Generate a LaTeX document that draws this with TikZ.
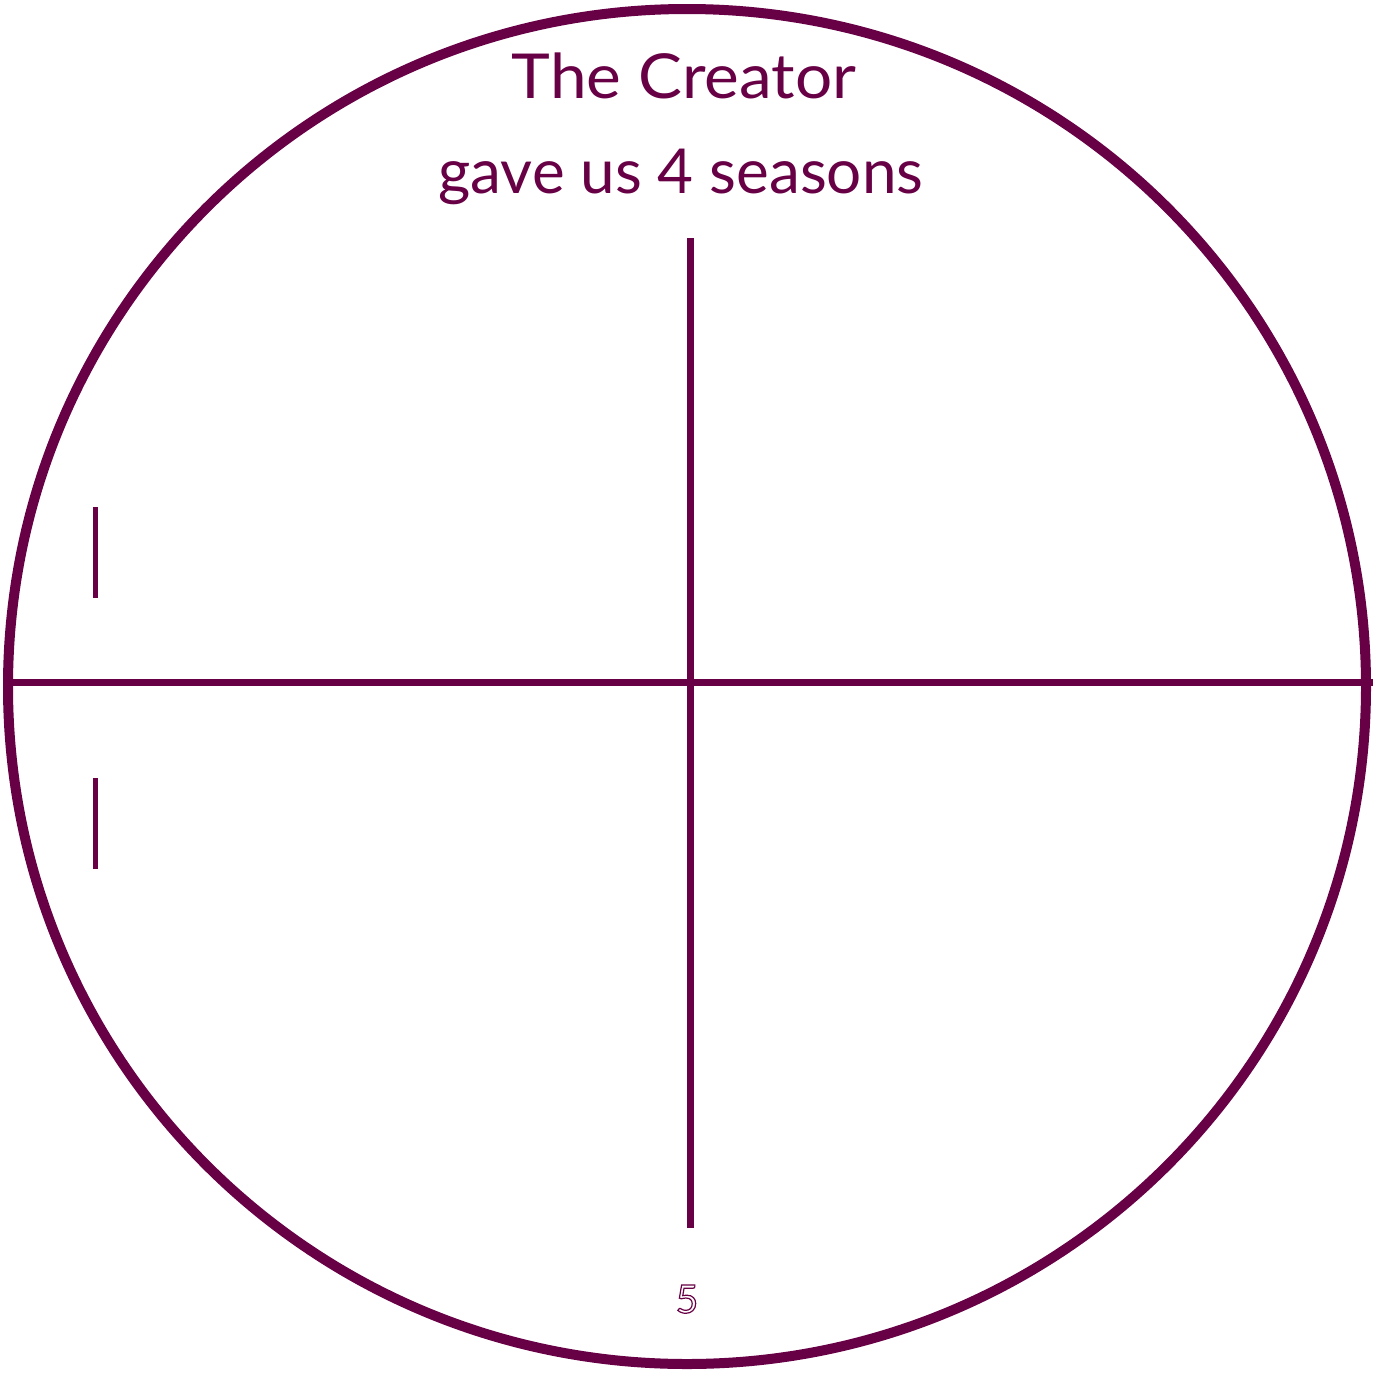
\documentclass[tikz,border=0pt]{standalone}
\usepackage{fontspec}
\setmainfont{Lato}
\definecolor{plum}{HTML}{680046}
\begin{document}
\begin{tikzpicture}[x=1pt,y=-1pt,
  rim/.style={draw=plum,line width=10pt},
  axis/.style={draw=plum,line width=7pt},
  tick/.style={draw=plum,line width=4.5pt},
  title/.style={text=plum,font=\fontsize{62}{64}\selectfont,inner sep=0pt,anchor=base}]
\useasboundingbox (0,0) rectangle (1386,1373);
\fill[white] (0,0) rectangle (1386,1373);
\draw[rim] (687,686.5) ellipse [x radius=679, y radius=677.5];
\coordinate (hl) at (8,682);
\coordinate (hr) at (1373,682);
\coordinate (vt) at (690.5,238);
\coordinate (vb) at (690.5,1228);
\draw[axis] (hl) -- (hr);
\draw[axis] (vt) -- (vb);
\coordinate (t1a) at (95.5,507);
\coordinate (t1b) at (95.5,598);
\coordinate (t2a) at (95.5,778);
\coordinate (t2b) at (95.5,869);
\draw[tick] (t1a) -- (t1b);
\draw[tick] (t2a) -- (t2b);
\node[title] (l1) at (684,98) {\scalebox{1.06}[1]{The Creator}};
\node[title] (l2) at (681,193) {gave us 4 seasons};
\node[text=plum,font=\fontsize{39}{40}\selectfont,inner sep=0pt,anchor=base] (pg) at (687,1313)
  {\special{pdf:literal direct 1 Tr 1.2 w}5\special{pdf:literal direct 0 Tr}};
\end{tikzpicture}
\end{document}
